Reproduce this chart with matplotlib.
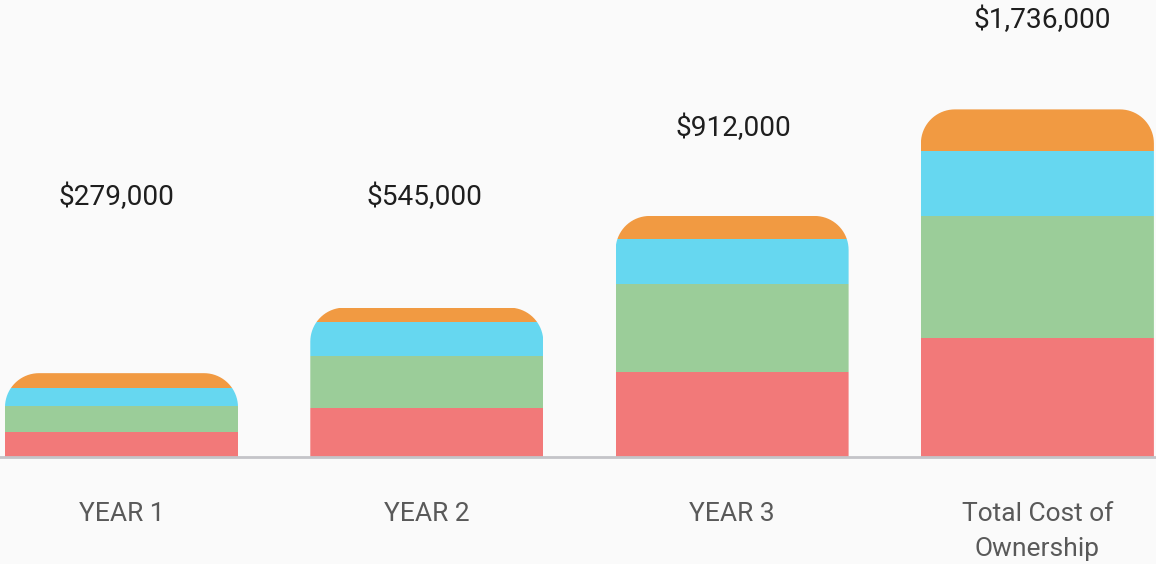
import numpy as np
import matplotlib.pyplot as plt
from matplotlib.path import Path

plt.rcParams['font.family'] = ['Roboto', 'DejaVu Sans']

# 資料（單位：千美元，依圖面估計）
categories = ['YEAR 1', 'YEAR 2', 'YEAR 3', 'Total Cost of\nOwnership']
seg_red = [124, 245, 423, 592]
seg_green = [128, 257, 438, 605]
seg_blue = [92, 171, 225, 325]
seg_orange = [73, 70, 113, 207]
total_labels = ['$279,000', '$545,000', '$912,000', '$1,736,000']

colors = ['#F27979', '#9BCD99', '#66D7F0', '#F19A42']
series = [seg_red, seg_green, seg_blue, seg_orange]

W, H = 1156, 564
fig = plt.figure(figsize=(W / 100, H / 100), dpi=100, facecolor='#FAFAFA')
ax = fig.add_axes([0, 107 / H, 1, 457 / H])
ax.set_facecolor('#FAFAFA')

px_x = 305.3                  # 每個類別的像素寬
k_per_px = 4.974              # 每像素多少千美元
ax.set_xlim(-121.5 / px_x, (W - 121.5) / px_x)
ax.set_ylim(0, 457 * k_per_px)
for s in ax.spines.values():
    s.set_visible(False)
ax.set_xticks([])
ax.set_yticks([])

x = np.arange(len(categories))
width = 233 / px_x
radius_px = 34
rx = radius_px / px_x
ry = radius_px * k_per_px


def rounded_top(xc, top):
    # 上方圓角的矩形路徑（資料座標）
    l, r = xc - width / 2, xc + width / 2
    t = np.linspace(0, np.pi / 2, 20)
    pts = [(l, 0)]
    pts += list(zip(l + rx - rx * np.cos(t), top - ry + ry * np.sin(t)))
    pts += list(zip(r - rx + rx * np.sin(t), top - ry + ry * np.cos(t)))
    pts += [(r, 0), (l, 0)]
    return Path(pts, closed=True)


bottom = np.zeros(len(categories))
bars_all = []
for vals, c in zip(series, colors):
    bars = ax.bar(x, vals, width, bottom=bottom, color=c, linewidth=0, zorder=2)
    bars_all.append(bars)
    bottom += np.array(vals)

for i in range(len(categories)):
    clip = rounded_top(x[i], bottom[i])
    for bars in bars_all:
        bars[i].set_clip_path(clip, ax.transData)

ax.axhline(0, color='#C4C4C8', linewidth=2.0, zorder=3, clip_on=False)

# 總額標籤的位置（像素，x 為相對柱中心的偏移，y 自圖底算起）
label_dx_px = [-5, -2, 1, 5]
label_y_px = [367, 367, 436, 544]
for i, txt in enumerate(total_labels):
    ax.annotate(txt, xy=(x[i], label_y_px[i]), xycoords=('data', 'figure pixels'),
                xytext=(label_dx_px[i] * 0.72, 0), textcoords='offset points',
                ha='center', va='center', fontsize=20.2, color='#1E1E1E')

for i, cat in enumerate(categories):
    ax.annotate(cat, xy=(x[i], 62), xycoords=('data', 'figure pixels'),
                ha='center', va='top', fontsize=19, color='#595959',
                linespacing=1.6, annotation_clip=False)

plt.savefig('out.png', dpi=100, facecolor=fig.get_facecolor())
plt.close()
